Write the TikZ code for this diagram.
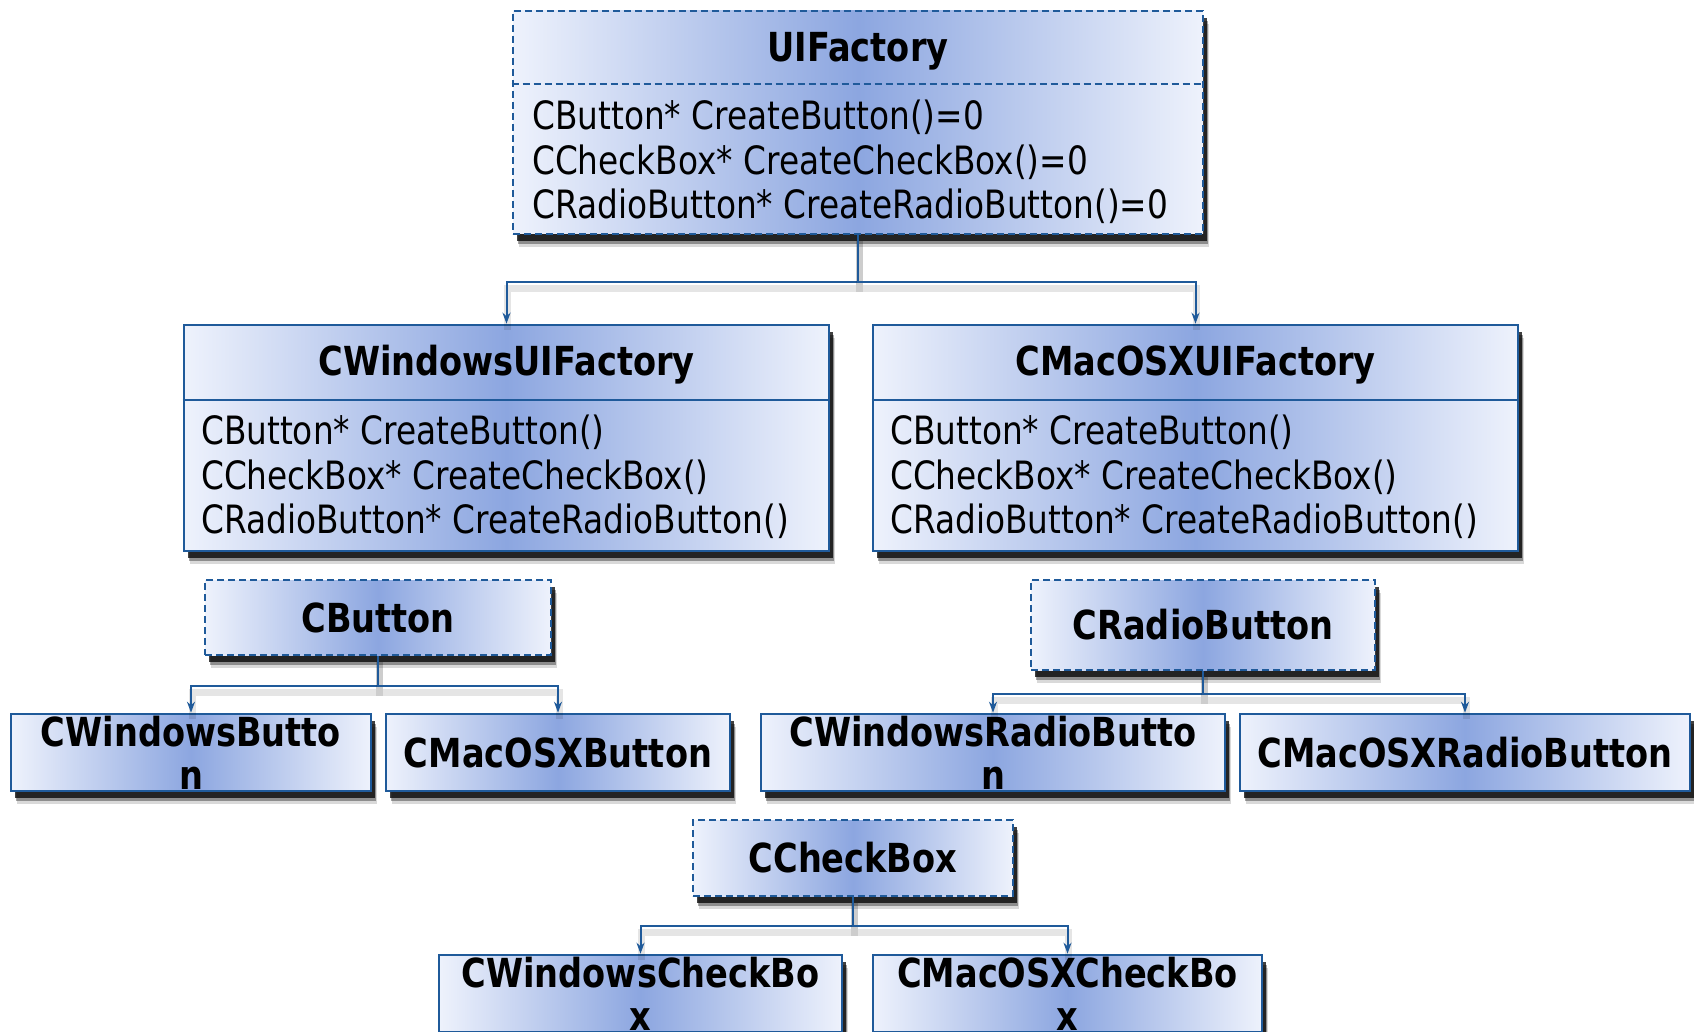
\documentclass[tikz,border=0pt]{standalone}
\usepackage{fontspec}
\setmainfont{DejaVu Sans}[FakeStretch=0.84]
\usetikzlibrary{shadows,arrows.meta}
\definecolor{umlline}{HTML}{1F5A9A}
\definecolor{umledge}{HTML}{EEF2FC}
\definecolor{umlmid}{HTML}{8CA6E0}
\tikzset{
  umlbox/.style={draw=umlline, line width=2.6pt, left color=umledge, right color=umledge,
    middle color=umlmid, inner sep=0pt,
    drop shadow={shadow xshift=6pt, shadow yshift=-13pt, fill=black, opacity=0.15},
    drop shadow={shadow xshift=5pt, shadow yshift=-10pt, fill=black, opacity=0.35},
    drop shadow={shadow xshift=4pt, shadow yshift=-7pt, fill=black, opacity=0.75}},
  abstractbox/.style={umlbox, dash pattern=on 7pt off 4pt},
  concretebox/.style={umlbox},
  ctitle/.style={font=\fontsize{40}{43}\selectfont\bfseries, align=center, inner sep=0pt},
  cmethods/.style={font=\fontsize{39}{44.3}\selectfont, align=left, anchor=north west, inner sep=0pt},
  inherit/.style={draw=umlline, line width=2pt, -{Stealth[length=11pt,width=8pt]},
    preaction={draw=black, opacity=0.1, line width=7pt, -, transform canvas={xshift=1pt,yshift=-6pt}}}
}
\begin{document}
\begin{tikzpicture}[x=1pt,y=-1pt]
  \fill[white] (0,0) rectangle (1694,1032);
  \useasboundingbox (0,0) rectangle (1694,1032);

  \node[abstractbox, minimum width=690pt, minimum height=223pt] (uif) at (858,122.5) {};
  \node[ctitle] (uift) at (858,51) {UIFactory};
  \draw[umlline, line width=2.6pt, dash pattern=on 7pt off 4pt] (uif.west |- 0,84) -- (uif.east |- 0,84);
  \node[cmethods] (uifm) at (532,100) {CButton* CreateButton()=0\\CCheckBox* CreateCheckBox()=0\\CRadioButton* CreateRadioButton()=0};

  \node[concretebox, minimum width=645pt, minimum height=226pt] (cwf) at (506.5,438) {};
  \node[ctitle] (cwft) at (506.5,365) {CWindowsUIFactory};
  \draw[umlline, line width=2.6pt] (cwf.west |- 0,400) -- (cwf.east |- 0,400);
  \node[cmethods] (cwfm) at (201,415) {CButton* CreateButton()\\CCheckBox* CreateCheckBox()\\CRadioButton* CreateRadioButton()};

  \node[concretebox, minimum width=645pt, minimum height=226pt] (cmf) at (1195.5,438) {};
  \node[ctitle] (cmft) at (1195.5,365) {CMacOSXUIFactory};
  \draw[umlline, line width=2.6pt] (cmf.west |- 0,400) -- (cmf.east |- 0,400);
  \node[cmethods] (cmfm) at (890,415) {CButton* CreateButton()\\CCheckBox* CreateCheckBox()\\CRadioButton* CreateRadioButton()};

  \node[abstractbox, ctitle, minimum width=346pt, minimum height=75pt] (cbtn) at (378,617.5) {CButton};
  \node[concretebox, ctitle, minimum width=360pt, minimum height=77pt] (cwb) at (191,752.5) {CWindowsButto\\n};
  \node[concretebox, ctitle, minimum width=344pt, minimum height=77pt] (cmb) at (558,752.5) {CMacOSXButton};

  \node[abstractbox, ctitle, minimum width=344pt, minimum height=90pt] (crb) at (1203,625) {CRadioButton};
  \node[concretebox, ctitle, minimum width=464pt, minimum height=77pt] (cwr) at (993,752.5) {CWindowsRadioButto\\n};
  \node[concretebox, ctitle, minimum width=450pt, minimum height=77pt] (cmr) at (1465,752.5) {CMacOSXRadioButton};

  \node[abstractbox, ctitle, minimum width=320pt, minimum height=76pt] (cchk) at (853,858) {CCheckBox};
  \node[concretebox, ctitle, minimum width=403pt, minimum height=77pt] (cwc) at (640.5,993.5) {CWindowsCheckBo\\x};
  \node[concretebox, ctitle, minimum width=389pt, minimum height=77pt] (cmc) at (1067.5,993.5) {CMacOSXCheckBo\\x};

  \draw[inherit] (uif.south) -- ++(0,47) -| (cwf.north);
  \draw[inherit] (uif.south) -- ++(0,47) -| (cmf.north);
  \draw[inherit] (cbtn.south) -- ++(0,30) -| (cwb.north);
  \draw[inherit] (cbtn.south) -- ++(0,30) -| (cmb.north);
  \draw[inherit] (crb.south) -- ++(0,23) -| (cwr.north);
  \draw[inherit] (crb.south) -- ++(0,23) -| (cmr.north);
  \draw[inherit] (cchk.south) -- ++(0,29) -| (cwc.north);
  \draw[inherit] (cchk.south) -- ++(0,29) -| (cmc.north);
\end{tikzpicture}
\end{document}
